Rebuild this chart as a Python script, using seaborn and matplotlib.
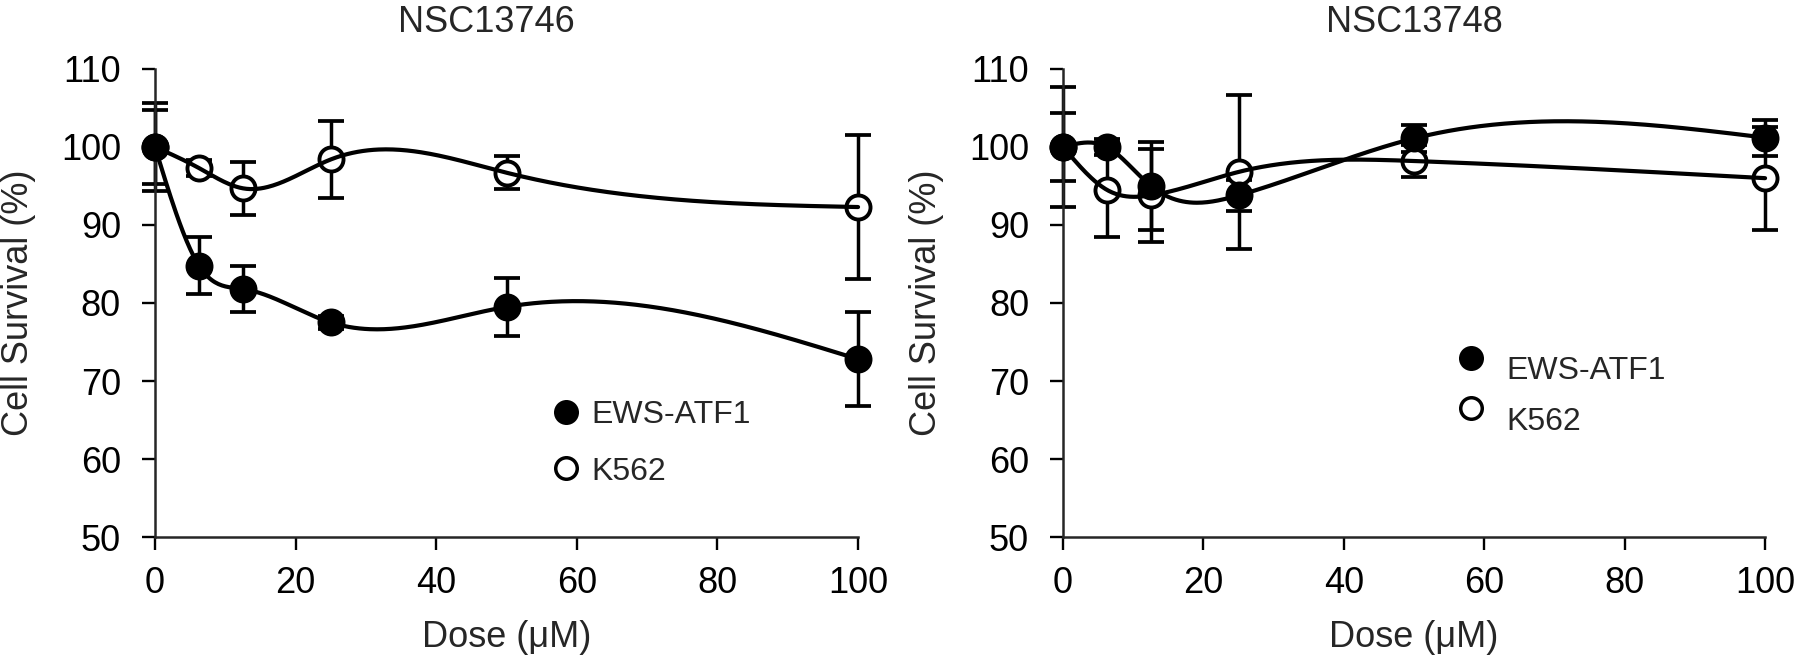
import numpy as np
import matplotlib
matplotlib.use("Agg")
import matplotlib.pyplot as plt
from matplotlib.lines import Line2D
from matplotlib.legend_handler import HandlerLine2D
import pandas as pd
import seaborn as sns

dose = [0, 6.25, 12.5, 25, 50, 100]

# NSC13746
ews_746 = [100, 84.8, 81.8, 77.5, 79.5, 72.8]
ews_746_err = [5.6, 3.6, 3.0, 0.8, 3.7, 6.0]
k562_746 = [100, 97.3, 94.7, 98.4, 96.7, 92.3]
k562_746_err = [4.8, 1.0, 3.4, 4.9, 2.1, 9.2]

# NSC13748
ews_748 = [100, 100, 95.0, 93.8, 101.1, 101.2]
ews_748_err = [7.7, 1.0, 5.6, 2.0, 1.7, 2.3]
k562_748 = [100, 94.5, 93.8, 96.8, 98.2, 96.0]
k562_748_err = [4.3, 6.0, 6.0, 9.9, 2.1, 6.6]

titles = ["NSC13746", "NSC13748"]
series_names = ["EWS-ATF1", "K562"]


def spline(x, y, n=400):
    # natural cubic spline, like the smooth line of the original plot
    x = np.asarray(x, float)
    y = np.asarray(y, float)
    k = len(x)
    h = np.diff(x)
    A = np.zeros((k, k))
    r = np.zeros(k)
    A[0, 0] = A[-1, -1] = 1
    for i in range(1, k - 1):
        A[i, i - 1] = h[i - 1]
        A[i, i] = 2 * (h[i - 1] + h[i])
        A[i, i + 1] = h[i]
        r[i] = 3 * ((y[i + 1] - y[i]) / h[i] - (y[i] - y[i - 1]) / h[i - 1])
    c = np.linalg.solve(A, r)
    b = (y[1:] - y[:-1]) / h - h * (2 * c[:-1] + c[1:]) / 3
    d = (c[1:] - c[:-1]) / (3 * h)
    xs = np.linspace(x[0], x[-1], n)
    idx = np.clip(np.searchsorted(x, xs) - 1, 0, k - 2)
    t = xs - x[idx]
    ys = y[idx] + b[idx] * t + c[idx] * t ** 2 + d[idx] * t ** 3
    return xs, ys


class RaisedHandler(HandlerLine2D):
    def __init__(self, dy=0, **kw):
        super().__init__(**kw)
        self.dy = dy

    def create_artists(self, legend, orig_handle, xdescent, ydescent, width,
                       height, fontsize, trans):
        arts = super().create_artists(legend, orig_handle, xdescent, ydescent,
                                      width, height, fontsize, trans)
        for a in arts:
            a.set_ydata(np.asarray(a.get_ydata(), float) + self.dy)
        return arts


sns.set_style("ticks")
plt.rcParams["font.family"] = ["Liberation Sans", "DejaVu Sans"]
plt.rcParams["axes.linewidth"] = 1.8

fig = plt.figure(figsize=(18, 6.63), dpi=100)
ax1 = fig.add_axes([0.0861, 0.19, 0.3906, 0.706])
ax2 = fig.add_axes([0.5906, 0.19, 0.39, 0.706])

panels = [
    (ax1, ews_746, ews_746_err, k562_746, k562_746_err),
    (ax2, ews_748, ews_748_err, k562_748, k562_748_err),
]

for ax, ews, ews_err, k562, k562_err in panels:
    # open symbols first so the filled ones sit on top where they overlap
    for vals, errs, face, z in [(k562, k562_err, "white", 3), (ews, ews_err, "black", 3.5)]:
        ax.errorbar(dose, vals, yerr=errs, fmt="none", ecolor="black",
                    elinewidth=2.5, capsize=9.7, capthick=2.7, zorder=2,
                    clip_on=False)
        df_pts = pd.DataFrame({"dose": dose, "surv": vals})
        sns.scatterplot(data=df_pts, x="dose", y="surv", ax=ax, s=300,
                        color=face, edgecolor="black", linewidth=2.8,
                        zorder=z, clip_on=False)
        sx, sy = spline(dose, vals)
        df_line = pd.DataFrame({"dose": sx, "surv": sy})
        sns.lineplot(data=df_line, x="dose", y="surv", ax=ax, color="black",
                     lw=3.0, zorder=4, clip_on=False)

    ax.set_xlim(0, 100)
    ax.set_ylim(50, 110)
    ax.set_xticks([0, 20, 40, 60, 80, 100])
    ax.set_yticks([50, 60, 70, 80, 90, 100, 110])
    sns.despine(ax=ax)
    ax.tick_params(axis="both", direction="out", length=9.5, width=1.7,
                   labelsize=26, colors="black")
    ax.tick_params(axis="y", pad=15)
    ax.tick_params(axis="x", pad=11)
    ax.set_xlabel("Dose (\u03bcM)", fontsize=26, labelpad=14)
    ax.set_ylabel("Cell Survival (%)", fontsize=26, labelpad=18)

ax1.text(0.472, 1.10, titles[0], transform=ax1.transAxes, ha="center",
         va="center", fontsize=26)
ax2.text(0.5, 1.10, titles[1], transform=ax2.transAxes, ha="center",
         va="center", fontsize=26)

handles = [
    Line2D([], [], ls="none", marker="o", ms=15.5, mfc="black", mec="black", mew=2.5),
    Line2D([], [], ls="none", marker="o", ms=15.5, mfc="white", mec="black", mew=2.5),
]

ax1.legend(handles, series_names, loc="center left", bbox_to_anchor=(0.566, 0.20),
           frameon=False, fontsize=23, handlelength=0.8, handletextpad=0.4,
           labelspacing=0.82, borderpad=0, borderaxespad=0)
ax2.legend(handles, series_names, loc="center left", bbox_to_anchor=(0.563, 0.30),
           frameon=False, fontsize=23, handlelength=0.8, handletextpad=0.72,
           labelspacing=0.65, borderpad=0, borderaxespad=0,
           handler_map={h: RaisedHandler(dy=7.5) for h in handles})

fig.savefig("out.png", dpi=100)
